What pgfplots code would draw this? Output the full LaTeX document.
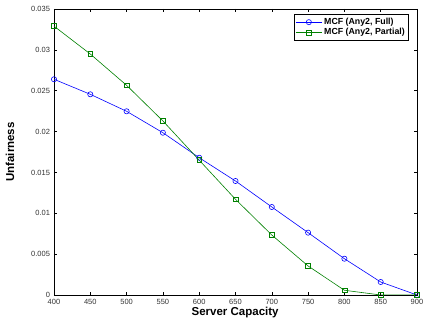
\documentclass[border=0pt]{standalone}
\usepackage{fontspec}
\setmainfont{Liberation Sans}
\usepackage{pgfplots}
\pgfplotsset{compat=1.18}
\definecolor{mblue}{rgb}{0,0,1}
\definecolor{mgreen}{rgb}{0,0.5,0}
\begin{document}
\begin{tikzpicture}
\useasboundingbox (-54pt,-33pt) rectangle (376pt,295pt);
\begin{axis}[
  at={(0pt,0pt)}, anchor=south west,
  scale only axis, width=363pt, height=286pt,
  xmin=400, xmax=900, ymin=0, ymax=0.035,
  xtick={400,450,...,900},
  ytick={0,0.005,0.01,0.015,0.02,0.025,0.03,0.035},
  scaled y ticks=false,
  yticklabel style={xshift=-0.5pt, /pgf/number format/.cd, fixed, precision=3},
  /pgf/number format/assume math mode=true,
  tick align=inside,
  major tick length=3pt,
  tick style={black, line width=0.5pt},
  axis line style={line width=0.8pt},
  ticklabel style={font=\fontsize{7.5}{8}\selectfont, text=black!80},
  xticklabel style={yshift=-0.5pt},
  xlabel={\textbf{Server Capacity}},
  ylabel={\textbf{Unfairness}},
  label style={font=\fontsize{11.5}{12}\selectfont},
  xlabel style={at={(axis description cs:0.499,-0.063)}, anchor=center},
  ylabel style={at={(axis description cs:-0.121,0.5)}, anchor=center},
  legend style={at={(0.977,0.981)}, anchor=north east, font=\bfseries\fontsize{8.8}{9}\selectfont, draw=black, line width=0.6pt, inner sep=1.5pt, row sep=-1.5pt},
  legend image code/.code={\draw[#1, line width=0.6pt] (0pt,0pt) -- (13pt,0pt); \draw[#1, line width=0.6pt] plot coordinates {(13pt,0pt)}; \draw[#1, line width=0.6pt] (13pt,0pt) -- (26pt,0pt);},
  legend cell align=left,
]
\addplot[mblue, line width=0.6pt, mark=o, mark size=2.6pt, mark options={line width=0.6pt}] coordinates {
(400,0.0264) (450,0.02456) (500,0.02248) (550,0.01986) (600,0.0168) (650,0.01395) (700,0.01077) (750,0.00763) (800,0.00444) (850,0.00159) (900,0)
};
\addlegendentry{MCF (Any2, Full)}
\addplot[mgreen, line width=0.6pt, mark=square, mark size=2.4pt, mark options={line width=0.6pt}] coordinates {
(400,0.0329) (450,0.02949) (500,0.02566) (550,0.0213) (600,0.0165) (650,0.01171) (700,0.00734) (750,0.00355) (800,0.00058) (850,0) (900,0)
};
\addlegendentry{MCF (Any2, Partial)}
\end{axis}
\end{tikzpicture}
\end{document}
